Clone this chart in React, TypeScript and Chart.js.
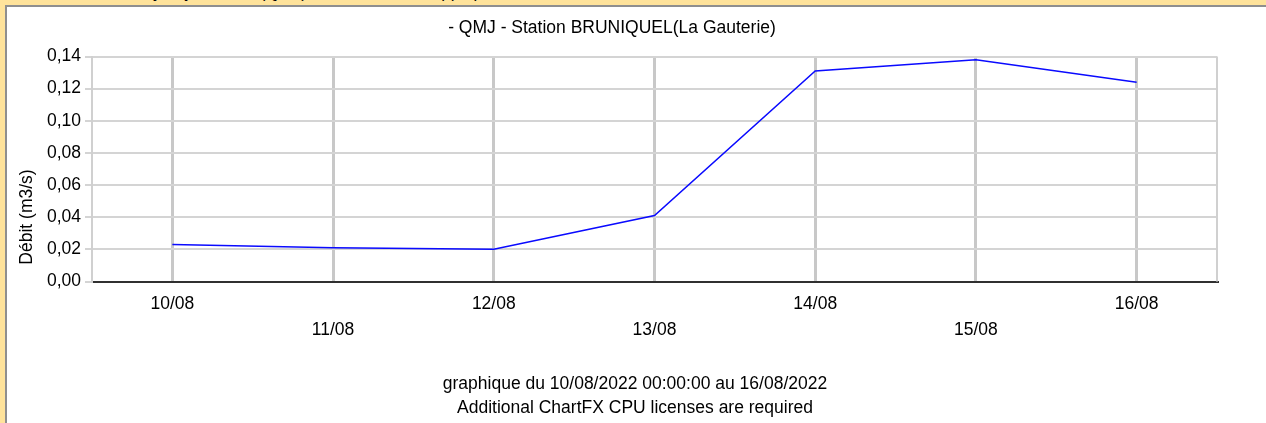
import React, { useEffect, useRef } from 'react';
import { Chart, registerables } from 'chart.js';

Chart.register(...registerables);

const FONT = '"Liberation Sans", Arial, sans-serif';

const categories = ['10/08', '11/08', '12/08', '13/08', '14/08', '15/08', '16/08'];
const debit = [0.023, 0.021, 0.02, 0.041, 0.131, 0.138, 0.124];
const yMin = 0;
const yMax = 0.14;
const yStep = 0.02;
const chartTitle = '- QMJ - Station BRUNIQUEL(La Gauterie)';
const yAxisTitle = 'Débit (m3/s)';
const footerLines = [
  'graphique du 10/08/2022 00:00:00 au 16/08/2022',
  'Additional ChartFX CPU licenses are required',
];
const headerText = 'Débit moyen journalier (QMJ) sans correction appliquée';

const framePlugin = {
  id: 'frame',
  beforeDatasetsDraw(chart: any) {
    const { ctx, chartArea } = chart;
    ctx.save();
    ctx.strokeStyle = '#d0d0d0';
    ctx.lineWidth = 2;
    ctx.beginPath();
    ctx.moveTo(chartArea.right, chartArea.top);
    ctx.lineTo(chartArea.right, chartArea.bottom);
    ctx.stroke();
    ctx.restore();
  },
  afterDraw(chart: any) {
    const { ctx, chartArea } = chart;
    ctx.save();
    ctx.translate(chartArea.left - 65, chartArea.bottom - 64.5);
    ctx.rotate(-Math.PI / 2);
    ctx.font = `17.5px ${FONT}`;
    ctx.fillStyle = '#000';
    ctx.textAlign = 'center';
    ctx.textBaseline = 'middle';
    ctx.fillText(yAxisTitle, 0, 0);
    ctx.restore();
  },
};

export default function App() {
  const canvasRef = useRef<HTMLCanvasElement | null>(null);

  useEffect(() => {
    if (!canvasRef.current) return;
    Chart.defaults.font.family = FONT;
    Chart.defaults.color = '#000';
    const chart = new Chart(canvasRef.current, {
      type: 'line',
      data: {
        labels: categories,
        datasets: [
          {
            label: 'QMJ',
            data: debit,
            borderColor: '#0a0aff',
            borderWidth: 1.5,
            pointRadius: 0,
            tension: 0,
            fill: false,
          },
        ],
      },
      options: {
        responsive: false,
        animation: false,
        layout: { padding: { left: 0, top: 0, right: 49, bottom: 81.5 } },
        plugins: {
          legend: { display: false },
          tooltip: { enabled: false },
          title: {
            display: true,
            text: chartTitle,
            color: '#000',
            font: { family: FONT, size: 17.5, weight: 'normal' },
            padding: { top: 10.5, bottom: 18 },
          },
        },
        scales: {
          x: {
            type: 'category',
            offset: true,
            grid: { color: '#c8c8c8', lineWidth: 3, drawTicks: false, offset: false },
            border: { display: true, color: '#303030', width: 2 },
            ticks: {
              autoSkip: false,
              maxRotation: 0,
              minRotation: 0,
              padding: 9.5,
              color: '#000',
              font: { family: FONT, size: 17.5, lineHeight: '26px' },
              callback: (_v: any, i: number) => (i % 2 === 0 ? categories[i] : ['', categories[i]]),
            },
            afterFit: (s: any) => {
              s.height = 60;
            },
          },
          y: {
            min: yMin,
            max: yMax,
            grid: { color: '#d4d4d4', lineWidth: 2, tickLength: 7, drawTicks: true },
            border: { display: true, color: '#d0d0d0', width: 2 },
            ticks: {
              stepSize: yStep,
              padding: 4,
              color: '#000',
              font: { family: FONT, size: 17.5 },
              callback: (v: any) => Number(v).toFixed(2).replace('.', ','),
            },
            afterFit: (s: any) => {
              s.width = 85;
            },
          },
        },
      },
      plugins: [framePlugin],
    } as any);
    return () => chart.destroy();
  }, []);

  return (
    <div
      style={{
        position: 'fixed',
        left: 0,
        top: 0,
        width: 1266,
        height: 423,
        background: '#FFE39B',
        overflow: 'hidden',
        fontFamily: FONT,
      }}
    >
      <div
        style={{
          position: 'absolute',
          left: 85,
          top: -17,
          fontSize: 17,
          lineHeight: '20px',
          color: '#000',
          whiteSpace: 'nowrap',
        }}
      >
        {headerText}
      </div>
      <div
        style={{
          position: 'absolute',
          left: 5,
          top: 5,
          right: 0,
          bottom: 0,
          background: '#fff',
          borderLeft: '2px solid #8f8f8f',
          borderTop: '2px solid #8f8f8f',
        }}
      >
        <canvas ref={canvasRef} width={1259} height={416} style={{ position: 'absolute', left: 0, top: 0 }} />
      </div>
      {footerLines.map((t, i) => (
        <div
          key={i}
          style={{
            position: 'absolute',
            left: 0,
            width: 1270,
            top: 373 + i * 24,
            fontSize: 17.5,
            lineHeight: '20px',
            textAlign: 'center',
            color: '#000',
            whiteSpace: 'nowrap',
          }}
        >
          {t}
        </div>
      ))}
    </div>
  );
}
